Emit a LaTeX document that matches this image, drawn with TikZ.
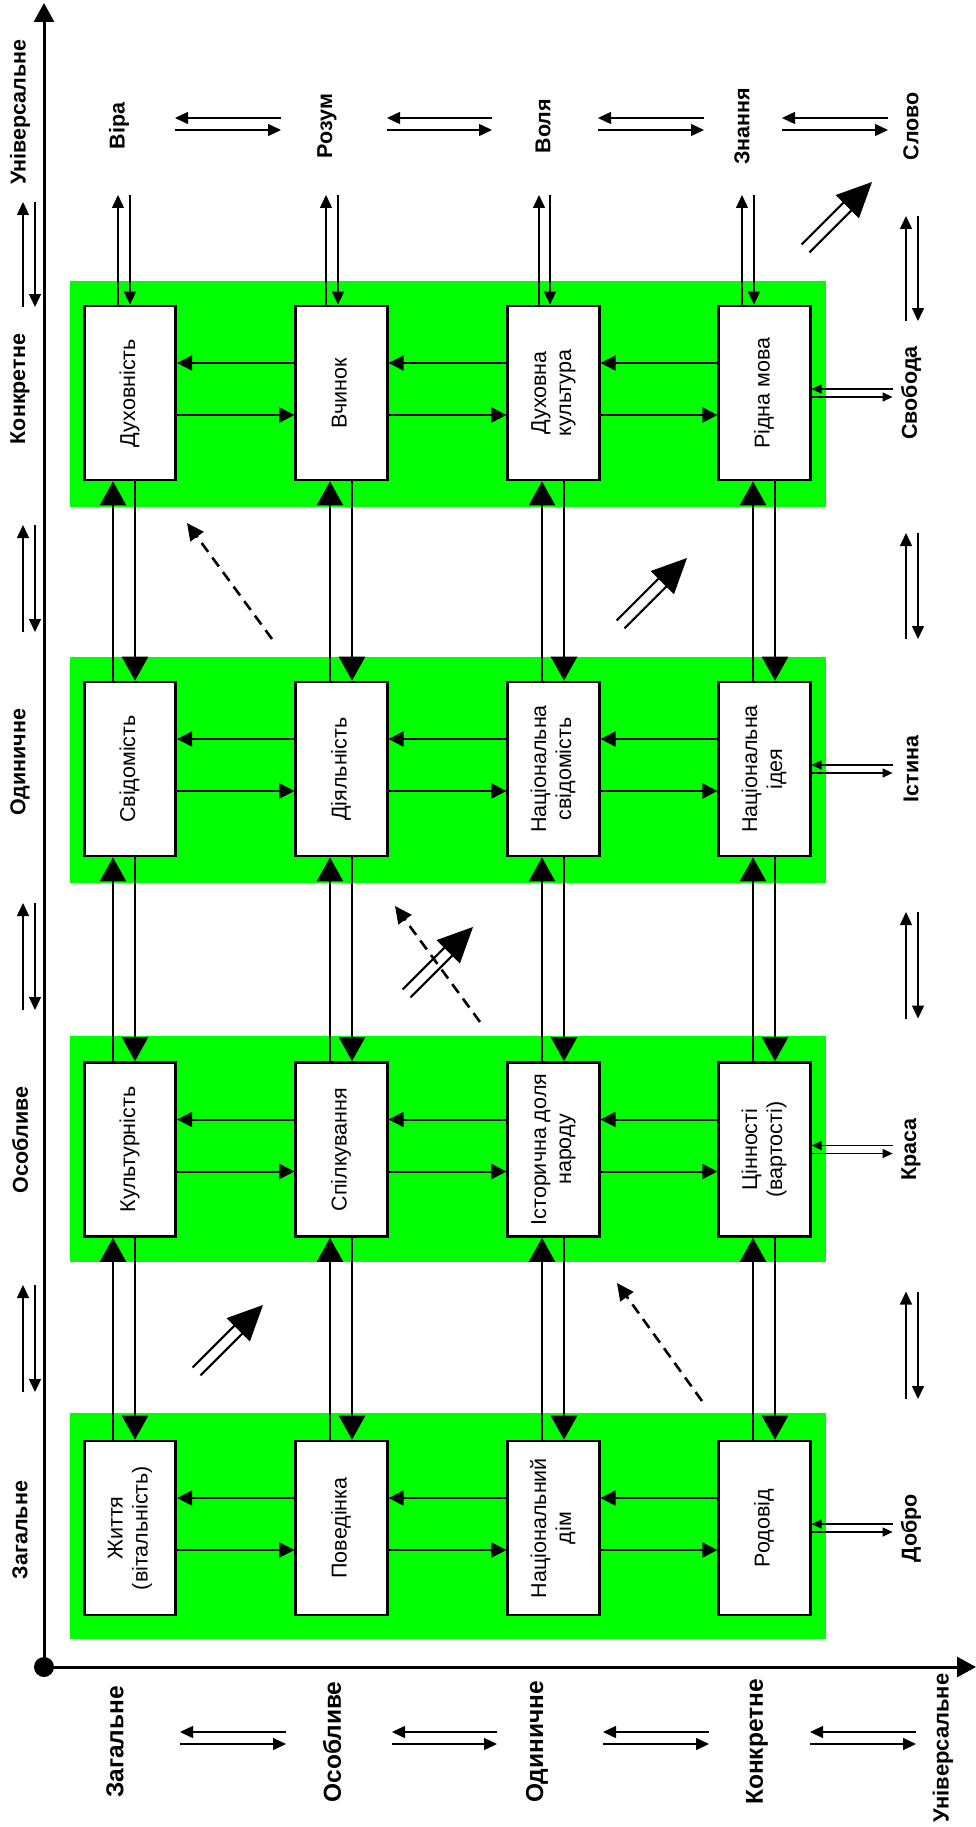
\documentclass[tikz,border=0pt]{standalone}
\usepackage{fontspec}
\setmainfont{Liberation Sans}
\usepackage{graphicx}
\usetikzlibrary{arrows.meta,calc}
\definecolor{band}{RGB}{0,255,0}
\newcommand\boxtxt[1]{\rotatebox{90}{\begin{tabular}{@{}c@{}}#1\end{tabular}}}
\newcommand\dblarr[2]{%
  \begin{scope}[shift={(#1,#2)},rotate=45]
    \draw[line width=2.2pt] (-94,-5.6) -- (-30,-5.6) (-94,5.6) -- (-30,5.6);
    \fill (0,0) -- (-35,-16.5) -- (-35,16.5) -- cycle;
  \end{scope}}
\begin{document}
\begin{tikzpicture}[x=1pt,y=-1pt,
  boxst/.style={draw, line width=2.7pt, fill=white, minimum width=91.5pt, minimum height=174pt, inner sep=0pt, font=\fontsize{21.5}{25}\selectfont},
  bandst/.style={fill=band, draw=none, inner sep=0pt, minimum width=756pt, minimum height=226pt},
  lblst/.style={font=\fontsize{21.5}{25}\selectfont\bfseries, inner sep=0pt, rotate=90},
  blblst/.style={font=\fontsize{24.5}{28}\selectfont\bfseries, inner sep=0pt, rotate=90},
  axisst/.style={line width=3pt, -{Triangle[length=19pt,width=20pt]}},
  sarr/.style={line width=1.4pt, -{Triangle[length=13pt,width=12pt]}},
  rarr/.style={line width=1.3pt, -{Triangle[length=10pt,width=9pt]}},
  marr/.style={line width=2pt, -{Triangle[length=15pt,width=15pt]}},
  barr/.style={line width=2.6pt, -{Triangle[length=24pt,width=26pt]}},
  dasharr/.style={line width=2.6pt, dash pattern=on 11pt off 7pt, -{Triangle[length=17pt,width=16pt]}},
]
\useasboundingbox[fill=white] (0,0) rectangle (976,1827);

% green bands
\node[bandst] (g1) at (448,394) {};
\node[bandst] (g2) at (448,770) {};
\node[bandst] (g3) at (448,1148.5) {};
\node[bandst] (g4) at (448,1526) {};

% boxes
\node[boxst] (b11) at (130,393) {\boxtxt{Духовність}};
\node[boxst] (b12) at (341.5,393) {\boxtxt{Вчинок}};
\node[boxst] (b13) at (553.5,393) {\boxtxt{Духовна\\культура}};
\node[boxst] (b14) at (764.5,393) {\boxtxt{Рідна мова}};
\node[boxst] (b21) at (130,769) {\boxtxt{Свідомість}};
\node[boxst] (b22) at (341.5,769) {\boxtxt{Діяльність}};
\node[boxst] (b23) at (553.5,769) {\boxtxt{Національна\\свідомість}};
\node[boxst] (b24) at (764.5,769) {\boxtxt{Національна\\ідея}};
\node[boxst] (b31) at (130,1149.5) {\boxtxt{Культурність}};
\node[boxst] (b32) at (341.5,1149.5) {\boxtxt{Спілкування}};
\node[boxst] (b33) at (553.5,1149.5) {\boxtxt{Історична доля\\народу}};
\node[boxst] (b34) at (764.5,1149.5) {\boxtxt{Цінності\\(вартості)}};
\node[boxst] (b41) at (130,1528) {\boxtxt{Життя\\(вітальність)}};
\node[boxst] (b42) at (341.5,1528) {\boxtxt{Поведінка}};
\node[boxst] (b43) at (553.5,1528) {\boxtxt{Національний\\дім}};
\node[boxst] (b44) at (764.5,1528) {\boxtxt{Родовід}};

% labels
\node[lblst] (t1) at (119,126) {Віра};
\node[lblst] (t2) at (327,126) {Розум};
\node[lblst] (t3) at (543,126) {Воля};
\node[lblst] (t4) at (742,126) {Знання};
\node[lblst] (t5) at (911,126) {Слово};
\node[lblst] (r1) at (911,393) {Свобода};
\node[lblst] (r2) at (911,769) {Істина};
\node[lblst] (r3) at (911,1149.5) {Краса};
\node[lblst] (r4) at (911,1528) {Добро};
\node[lblst] (l1) at (20,112) {Універсальне};
\node[lblst] (l2) at (20,389) {Конкретне};
\node[lblst] (l3) at (20,762) {Одиничне};
\node[lblst] (l4) at (20,1140) {Особливе};
\node[lblst] (l5) at (20,1530) {Загальне};
\node[blblst] (x1) at (115,1742) {Загальне};
\node[blblst] (x2) at (332,1742) {Особливе};
\node[blblst] (x3) at (537,1742) {Одиничне};
\node[blblst] (x4) at (757,1742) {Конкретне};
\node[blblst, font=\fontsize{22}{26}\selectfont\bfseries] (x5) at (943,1748) {Універсальне};

% axes
\node[circle, fill=black, minimum size=20pt, inner sep=0pt] (o) at (44,1667) {};
\coordinate (ytip) at (44,3);
\coordinate (xtip) at (976,1667);
\draw[axisst] (o.center) -- (ytip);
\draw[axisst] (o.center) -- (xtip);

% horizontal arrows between boxes
\foreach \r in {1,...,4} {
  \foreach \c/\n in {1/2,2/3,3/4} {
    \draw[marr] ([yshift=30pt]b\r\n.west) -- ([yshift=30pt]b\r\c.east);
    \draw[marr] ([yshift=-22pt]b\r\c.east) -- ([yshift=-22pt]b\r\n.west);
  }
}

% vertical arrows between rows
\foreach \r/\s in {1/2,2/3,3/4} {
  \foreach \c/\u/\d in {1/-17/5, 2/-11.5/10.5, 3/-11.5/10.5, 4/-11.5/10.5} {
    \draw[barr] ([xshift=\u pt]b\s\c.north) -- ([xshift=\u pt]b\r\c.south);
    \draw[barr] ([xshift=\d pt]b\r\c.south) -- ([xshift=\d pt]b\s\c.north);
  }
}

% top labels to first row
\foreach \c/\xu/\xd in {1/118/130, 2/326/338, 3/539/550, 4/742/754} {
  \coordinate (tu\c) at (\xu,195);
  \coordinate (td\c) at (\xd,195);
  \draw[sarr] (b1\c.north -| tu\c) -- (tu\c);
  \draw[sarr] (td\c) -- (b1\c.north -| td\c);
}

% top horizontal pairs
\foreach \a/\b/\sa/\sb in {1/2/56/46, 2/3/60/51, 3/4/55/38, 4/5/40/23} {
  \draw[sarr, shorten <=\sb pt, shorten >=\sa pt] ([yshift=8pt]t\b.center) -- ([yshift=8pt]t\a.center);
  \draw[sarr, shorten <=\sa pt, shorten >=\sb pt] ([yshift=-4pt]t\a.center) -- ([yshift=-4pt]t\b.center);
}

% right box-label pairs
\foreach \r in {1,...,4} {
  \draw[rarr] ([shift={(81,-4)}]b\r4.east) -- ([shift={(0,-4)}]b\r4.east);
  \draw[rarr] ([shift={(0,4)}]b\r4.east) -- ([shift={(81,4)}]b\r4.east);
}

% left vertical pairs
\foreach \a/\b/\st/\sb in {1/2/90/82, 2/3/136/130, 3/4/141/130, 4/5/145/138} {
  \draw[sarr, shorten <=\sb pt, shorten >=\st pt] ([xshift=3pt]l\b.center) -- ([xshift=3pt]l\a.center);
  \draw[sarr, shorten <=\st pt, shorten >=\sb pt] ([xshift=15pt]l\a.center) -- ([xshift=15pt]l\b.center);
}

% right vertical pairs
\foreach \a/\b/\st/\sb in {t5/r1/90/72, r1/r2/140/130, r2/r3/143/131, r3/r4/142/129} {
  \draw[sarr, shorten <=\sb pt, shorten >=\st pt] ([xshift=-5pt]\b.center) -- ([xshift=-5pt]\a.center);
  \draw[sarr, shorten <=\st pt, shorten >=\sb pt] ([xshift=7pt]\a.center) -- ([xshift=7pt]\b.center);
}

% bottom horizontal pairs
\foreach \n/\p/\q in {1/65/171, 2/60/165, 3/66/172, 4/53/159} {
  \draw[sarr] ([shift={(\q,-10)}]x\n.center) -- ([shift={(\p,-10)}]x\n.center);
  \draw[sarr] ([shift={(\p,2)}]x\n.center) -- ([shift={(\q,2)}]x\n.center);
}

% dashed arrows
\coordinate (d1a) at (272,639);  \coordinate (d1b) at (187,523);
\coordinate (d2a) at (480,1022); \coordinate (d2b) at (395,906);
\coordinate (d3a) at (702,1401); \coordinate (d3b) at (617,1283);
\draw[dasharr] (d1a) -- (d1b);
\draw[dasharr] (d2a) -- (d2b);
\draw[dasharr] (d3a) -- (d3b);

% double arrows
\dblarr{872}{182}
\dblarr{687}{558}
\dblarr{473}{927}
\dblarr{263}{1305}
\end{tikzpicture}
\end{document}
